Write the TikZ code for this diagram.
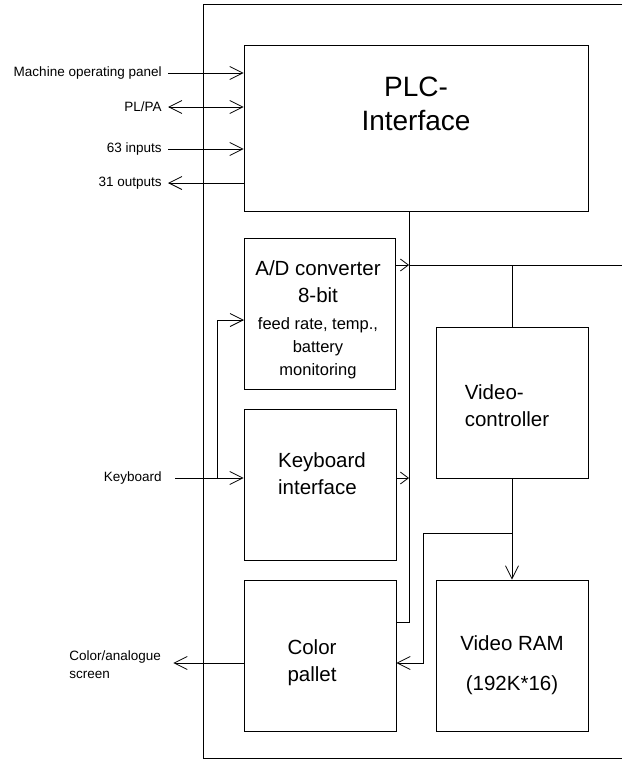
\documentclass[tikz,border=0pt]{standalone}
\usepackage{fontspec}
\setmainfont{Liberation Sans}
\usetikzlibrary{arrows.meta}
\tikzset{
  blk/.style={draw,minimum width=152pt,minimum height=151pt,inner sep=0pt},
  bigtxt/.style={font=\fontsize{20.5}{27}\selectfont,inner sep=0pt},
  smalltxt/.style={font=\fontsize{13.5}{18}\selectfont,inner sep=0pt},
  bus/.style={->,>={Straight Barb[length=8pt,width=12pt]}}
}
\begin{document}
\begin{tikzpicture}[x=1pt,y=-1pt,>={Straight Barb[length=13pt,width=13pt]},line width=.8pt]
  \useasboundingbox (0,0) rectangle (622,760);
  % outer frame, open to the right
  \draw (622,4) -- (203,4) -- (203,758) -- (622,758);
  % blocks
  \node[blk,minimum width=344pt,minimum height=166pt] (plc) at (416,128) {};
  \node[blk,minimum width=151pt] (adc) at (319.5,313.5) {};
  \node[blk] (kbd) at (320,484.5) {};
  \node[blk] (pal) at (320,655.5) {};
  \node[blk] (vc) at (512,402.5) {};
  \node[blk] (vram) at (512,655.5) {};
  % block texts
  \node[inner sep=0pt,align=center,font=\fontsize{28}{34}\selectfont] (plctxt) at (416,104) {PLC-\\Interface};
  \node[bigtxt,align=center] (adctxt) at (318,281.5) {A/D converter\\8-bit};
  \node[smalltxt,align=center,font=\fontsize{16.5}{23}\selectfont] (adcsub) at (318,348) {feed rate, temp.,\\battery\\monitoring};
  \node[bigtxt,align=left] (kbdtxt) at (322,474) {Keyboard\\interface};
  \node[bigtxt,align=left] (paltxt) at (312,663) {Color\\pallet};
  \node[bigtxt,align=left] (vctxt) at (507,406) {Video-\\controller};
  \node[bigtxt,align=center,font=\fontsize{20.5}{40}\selectfont] (vramtxt) at (512,665) {Video RAM\\(192K*16)};
  % outside signals
  \node[smalltxt,anchor=east] (mop) at (162,73) {Machine operating panel};
  \node[smalltxt,anchor=east] (plpa) at (162,107) {PL/PA};
  \node[smalltxt,anchor=east] (inp) at (162,149) {63 inputs};
  \node[smalltxt,anchor=east] (outp) at (162,183) {31 outputs};
  \node[smalltxt,anchor=east] (key) at (162,478) {Keyboard};
  \node[smalltxt,anchor=west,align=left] (scr) at (69,665) {Color/analogue\\screen};
  \draw[->] ([xshift=6pt]mop.east) -- (mop.east -| plc.west);
  \draw[<->] ([xshift=6pt]plpa.east) -- (plpa.east -| plc.west);
  \draw[->] ([xshift=6pt]inp.east) -- (inp.east -| plc.west);
  \draw[<-] ([xshift=6pt]outp.east) -- (outp.east -| plc.west);
  % keyboard input, branch to A/D
  \coordinate (kin) at (217,478);
  \coordinate (adin) at (244,320);
  \draw[->] ([xshift=13pt]key.east) -- (key.east -| kbd.west);
  \draw[->] (kin) -- (kin |- adin) -- (adin);
  % bus
  \coordinate (b1) at (409,211);
  \coordinate (b2) at (409,622);
  \coordinate (ad) at (409,265);
  \coordinate (kb) at (409,478);
  \coordinate (rt) at (622,265);
  \draw (b1) -- (b2) -- (b2 -| pal.east);
  \draw[bus] (ad -| adc.east) -- (ad);
  \draw[bus] (kb -| kbd.east) -- (kb);
  \draw (ad) -- (rt);
  \draw (ad -| vc.north) -- (vc.north);
  % video path
  \coordinate (v1) at (512,533);
  \coordinate (v2) at (423,533);
  \coordinate (v3) at (423,663);
  \draw[->] (vc.south) -- (vram.north);
  \draw[->] (v1) -- (v2) -- (v3) -- (v3 -| pal.east);
  \draw[->] (v3 -| pal.west) -- ([xshift=12pt]scr.east |- v3);
\end{tikzpicture}
\end{document}
